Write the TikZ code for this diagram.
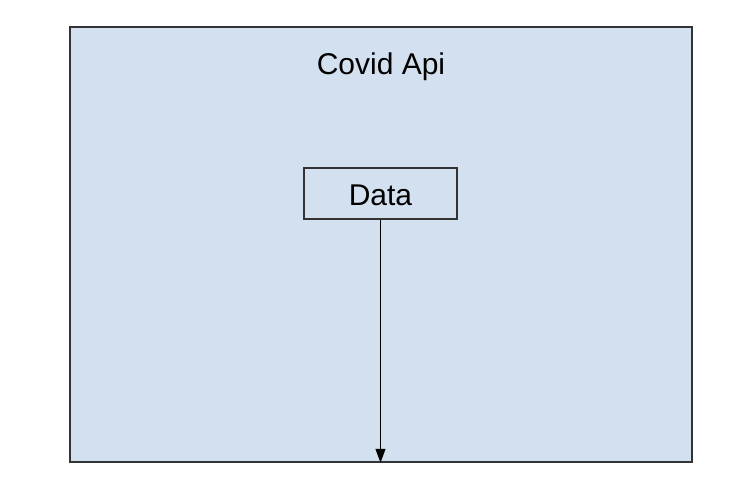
\documentclass[tikz,border=0pt]{standalone}
\usepackage{fontspec}
\setmainfont{Liberation Sans}
\usetikzlibrary{arrows.meta}
\definecolor{panel}{HTML}{D3E0EF}
\definecolor{edge}{HTML}{333333}
\begin{document}
\begin{tikzpicture}[x=1pt,y=-1pt,
  panelbox/.style={draw=edge,line width=1.5pt,fill=panel},
  databox/.style={draw=edge,line width=1.2pt,fill=panel,minimum width=153pt,minimum height=51pt,inner sep=0pt},
  lbl/.style={font=\fontsize{30}{36}\selectfont,inner sep=0pt},
  conn/.style={draw=black,line width=1.2pt,-{Triangle[length=14pt,width=10pt]}}]
\useasboundingbox[fill=white] (0,0) rectangle (748,479);
\node[panelbox,minimum width=622pt,minimum height=435pt,inner sep=0pt] (api) at (381,244.5) {};
\node[lbl,anchor=base] (title) at (381,74) {Covid Api};
\node[databox] (data) at (380.5,193.5) {};
\node[lbl,anchor=base] (datalbl) at (data.center |- 0,205) {Data};
\draw[conn] (data.south) -- (data.south |- api.south);
\end{tikzpicture}
\end{document}
